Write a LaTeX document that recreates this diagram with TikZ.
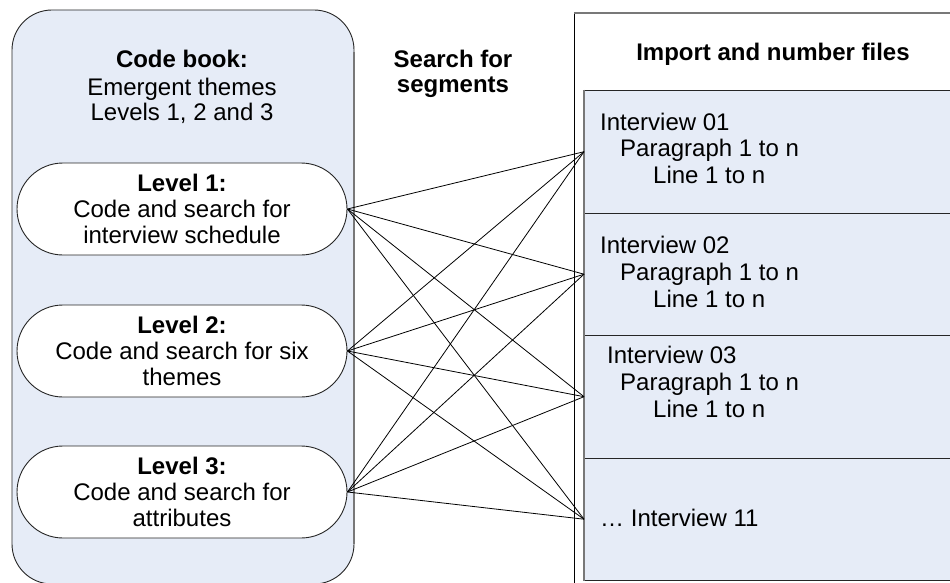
\documentclass[tikz,border=0pt]{standalone}
\usepackage{fontspec}
\setmainfont{Liberation Sans}
\definecolor{paleblue}{RGB}{230,236,247}
\definecolor{edgegray}{RGB}{120,120,120}
\begin{document}
\begin{tikzpicture}[x=1pt,y=-1pt,
  txt/.style={font=\fontsize{24}{26}\selectfont, inner sep=0pt},
  panel/.style={draw=black!85, fill=paleblue, rounded corners=40pt, line width=0.9pt,
    minimum width=342pt, minimum height=574pt, inner sep=0pt},
  oval/.style={txt, draw=black!85, fill=white, rounded corners=46pt, line width=0.9pt,
    minimum width=330pt, minimum height=92pt, align=center},
  outerbox/.style={draw=black, fill=white, line width=0.9pt, anchor=north west,
    minimum width=400pt, minimum height=600pt, inner sep=0pt},
  filebox/.style={draw=black!85, fill=paleblue, line width=0.9pt, anchor=north west,
    minimum width=380pt, minimum height=122.5pt, inner sep=0pt},
  link/.style={draw=black, line width=0.8pt},
  line/.style={txt, anchor=base west},
  head/.style={txt, font=\fontsize{24}{26}\selectfont\bfseries, anchor=base},
]
\useasboundingbox (0,0) rectangle (950,583);

% code book panel
\node[panel] (codebook) at (183,297) {};
\draw[edgegray, line width=1.6pt] (354,52) -- (354,544);
\node[head] (cbtitle) at (182,68) {Code book:};
\node[txt, anchor=base] (cbline1) at (182,96) {Emergent themes};
\node[txt, anchor=base] (cbline2) at (182,121) {Levels 1, 2 and 3};

% coding levels
\node[oval] (lv1) at (182,209) {\textbf{Level 1:}\\Code and search for\\interview schedule};
\node[oval] (lv2) at (182,351) {\textbf{Level 2:}\\Code and search for six\\themes};
\node[oval] (lv3) at (182,492) {\textbf{Level 3:}\\Code and search for\\attributes};

% search label
\node[head] (search1) at (453,68) {Search for};
\node[head] (search2) at (453,93) {segments};

% imported files
\node[outerbox] (import) at (574,13) {};
\draw[edgegray, line width=1.2pt] (import.north west) -- (import.north east);
\node[head] (imtitle) at (773,61) {Import and number files};

\node[filebox] (iv1) at (584,90) {};
\node[filebox] (iv2) at (584,212.5) {};
\node[filebox] (iv3) at (584,335) {};
\node[filebox] (iv4) at (584,457.5) {};
\draw[edgegray, line width=2.4pt] (iv1.north west) -- (iv4.south west);

\node[line] (iv1a) at (600,131) {Interview 01};
\node[line] (iv1b) at (620,157) {Paragraph 1 to n};
\node[line] (iv1c) at (653,183) {Line 1 to n};
\node[line] (iv2a) at (600,253) {Interview 02};
\node[line] (iv2b) at (620,280) {Paragraph 1 to n};
\node[line] (iv2c) at (653,307) {Line 1 to n};
\node[line] (iv3a) at (607,363) {Interview 03};
\node[line] (iv3b) at (620,390) {Paragraph 1 to n};
\node[line] (iv3c) at (653,417) {Line 1 to n};
\node[line] (iv4a) at (600,526) {… Interview 11};

% search connections
\foreach \a in {lv1,lv2,lv3}
  \foreach \b in {iv1,iv2,iv3,iv4}
    \draw[link] (\a.east) -- (\b.west);
\end{tikzpicture}
\end{document}
